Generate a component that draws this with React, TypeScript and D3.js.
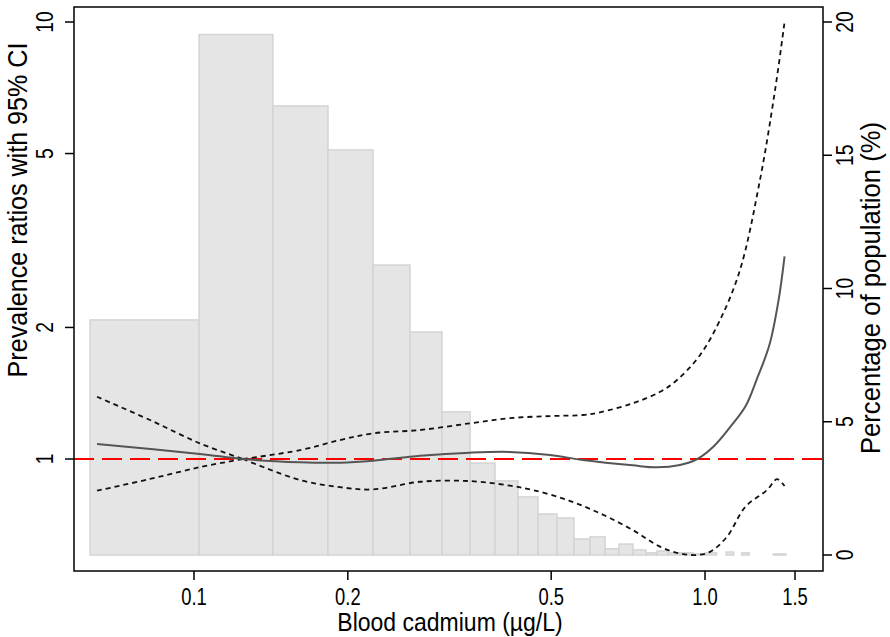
import React, { useEffect, useRef } from 'react';
import * as d3 from 'd3';

// histogram bins (blood cadmium, µg/L) and share of population (%)
const binStart = [0.0626, 0.1023, 0.1427, 0.1829, 0.224, 0.2647, 0.3057, 0.3469, 0.3882, 0.4306, 0.4713, 0.5132, 0.5541, 0.5957, 0.6374, 0.6787, 0.7228, 0.766, 0.8055, 0.846, 0.8935, 0.947, 1.0, 1.1, 1.18, 1.36];
const binEnd = [0.1023, 0.1427, 0.1829, 0.224, 0.2647, 0.3057, 0.3469, 0.3882, 0.4306, 0.4713, 0.5132, 0.5541, 0.5957, 0.6374, 0.6787, 0.7228, 0.766, 0.8055, 0.846, 0.8935, 0.947, 1.0, 1.054, 1.138, 1.22, 1.44];
const binPct = [8.82, 19.53, 16.85, 15.2, 10.88, 8.37, 5.37, 3.45, 2.78, 2.18, 1.54, 1.39, 0.6, 0.68, 0.23, 0.41, 0.19, 0.08, 0.15, 0.08, 0.08, 0.04, 0.08, 0.11, 0.08, 0.04];

// prevalence ratio spline
const fitX = [0.0646, 0.1027, 0.1247, 0.1612, 0.1931, 0.224, 0.2771, 0.3468, 0.4151, 0.4977, 0.5771, 0.7219, 0.8051, 0.8931, 0.9628, 1.038, 1.1215, 1.2001, 1.262, 1.336, 1.393, 1.4311];
const fitPR = [1.082, 1.027, 1.0, 0.983, 0.981, 0.991, 1.017, 1.034, 1.038, 1.021, 0.995, 0.967, 0.957, 0.969, 0.998, 1.067, 1.186, 1.32, 1.52, 1.82, 2.31, 2.91];

const upperX = [0.0646, 0.082, 0.1027, 0.1247, 0.1612, 0.1931, 0.224, 0.2771, 0.3468, 0.4151, 0.4977, 0.5771, 0.623, 0.7219, 0.8166, 0.8814, 0.978, 1.07, 1.171, 1.281, 1.371, 1.4311];
const upperPR = [1.388, 1.228, 1.086, 1.0, 1.048, 1.105, 1.145, 1.165, 1.207, 1.24, 1.254, 1.261, 1.279, 1.341, 1.425, 1.516, 1.73, 2.08, 2.71, 4.35, 6.98, 10.0];

const lowerX = [0.0646, 0.082, 0.1027, 0.1247, 0.1612, 0.1931, 0.224, 0.2771, 0.3468, 0.4151, 0.4607, 0.537, 0.623, 0.7219, 0.8166, 0.8931, 0.9628, 1.0228, 1.104, 1.2001, 1.322, 1.383, 1.4311];
const lowerPR = [0.846, 0.9, 0.958, 1.0, 0.895, 0.862, 0.852, 0.887, 0.89, 0.869, 0.849, 0.806, 0.751, 0.688, 0.63, 0.608, 0.603, 0.613, 0.664, 0.778, 0.849, 0.899, 0.867];

const xTicks = [0.1, 0.2, 0.5, 1.0, 1.5];
const xTickLabels = ['0.1', '0.2', '0.5', '1.0', '1.5'];
const leftTicks = [1, 2, 5, 10];
const rightTicks = [0, 5, 10, 15, 20];

const refValue = 0.1247;

const W = 890;
const H = 637;
const box = { left: 74, right: 823, top: 7, bottom: 571 };
const FONT = 'Liberation Sans, Arial, Helvetica, sans-serif';

const App = () => {
  const ref = useRef<SVGSVGElement>(null);

  useEffect(() => {
    const svg = d3.select(ref.current);
    svg.selectAll('*').remove();

    const x = d3.scaleLog().domain([0.1, 1.5]).range([194, 795]);
    const yL = d3.scaleLog().domain([1, 10]).range([459, 22]);
    const yR = d3.scaleLinear().domain([0, 20]).range([555, 22]);

    const g = svg.append('g');

    // histogram
    g.selectAll('rect.bar')
      .data(binPct)
      .enter()
      .append('rect')
      .attr('class', 'bar')
      .attr('x', (d, i) => x(binStart[i]))
      .attr('width', (d, i) => x(binEnd[i]) - x(binStart[i]))
      .attr('y', d => yR(d))
      .attr('height', d => yR(0) - yR(d))
      .attr('fill', '#e5e5e5')
      .attr('stroke', '#d4d4d4')
      .attr('stroke-width', 1.5);

    // reference line PR = 1
    g.append('line')
      .attr('x1', box.left)
      .attr('x2', box.right)
      .attr('y1', yL(1))
      .attr('y2', yL(1))
      .attr('stroke', '#ff0000')
      .attr('stroke-width', 2)
      .attr('stroke-dasharray', '20,8');

    const line = d3.line<[number, number]>()
      .x(d => x(d[0]))
      .y(d => yL(d[1]))
      .curve(d3.curveCatmullRom.alpha(0.5));

    // split at the reference value so the CI pinches to a point
    const drawSplit = (xs: number[], ys: number[], stroke: string, dash: string | null, width: number) => {
      const pts: [number, number][] = xs.map((v, i) => [v, ys[i]]);
      const left = pts.filter(p => p[0] <= refValue);
      const right = pts.filter(p => p[0] >= refValue);
      [left, right].forEach(part => {
        const p = g.append('path')
          .datum(part)
          .attr('fill', 'none')
          .attr('stroke', stroke)
          .attr('stroke-width', width)
          .attr('d', line);
        if (dash) p.attr('stroke-dasharray', dash);
      });
    };

    drawSplit(upperX, upperPR, '#111', '5,4', 1.8);
    drawSplit(lowerX, lowerPR, '#111', '5,4', 1.8);

    g.append('path')
      .datum(fitX.map((v, i) => [v, fitPR[i]] as [number, number]))
      .attr('fill', 'none')
      .attr('stroke', '#555')
      .attr('stroke-width', 2)
      .attr('d', line);

    // box
    svg.append('rect')
      .attr('x', box.left)
      .attr('y', box.top)
      .attr('width', box.right - box.left)
      .attr('height', box.bottom - box.top)
      .attr('fill', 'none')
      .attr('stroke', '#000')
      .attr('stroke-width', 1.5);

    const tickSize = 9;

    // bottom axis
    const bx = svg.append('g');
    xTicks.forEach((t, i) => {
      bx.append('line')
        .attr('x1', x(t)).attr('x2', x(t))
        .attr('y1', box.bottom).attr('y2', box.bottom + tickSize)
        .attr('stroke', '#000').attr('stroke-width', 1.5);
      bx.append('text')
        .attr('transform', `translate(${x(t)},${605}) scale(0.8,1)`)
        .attr('text-anchor', 'middle')
        .attr('font-family', FONT)
        .attr('font-size', 23)
        .text(xTickLabels[i]);
    });
    svg.append('text')
      .attr('transform', `translate(${450},${631}) scale(0.92,1)`)
      .attr('text-anchor', 'middle')
      .attr('font-family', FONT)
      .attr('font-size', 25)
      .text('Blood cadmium (µg/L)');

    // left axis
    leftTicks.forEach(t => {
      svg.append('line')
        .attr('x1', box.left - tickSize).attr('x2', box.left)
        .attr('y1', yL(t)).attr('y2', yL(t))
        .attr('stroke', '#000').attr('stroke-width', 1.5);
      svg.append('text')
        .attr('transform', `translate(${53},${yL(t)}) rotate(-90) scale(0.8,1)`)
        .attr('text-anchor', 'middle')
        .attr('font-family', FONT)
        .attr('font-size', 24)
        .text(String(t));
    });
    svg.append('text')
      .attr('transform', `translate(${27},${210}) rotate(-90) scale(0.93,1)`)
      .attr('text-anchor', 'middle')
      .attr('font-family', FONT)
      .attr('font-size', 27)
      .text('Prevalence ratios with 95% CI');

    // right axis
    rightTicks.forEach(t => {
      svg.append('line')
        .attr('x1', box.right).attr('x2', box.right + tickSize)
        .attr('y1', yR(t)).attr('y2', yR(t))
        .attr('stroke', '#000').attr('stroke-width', 1.5);
      svg.append('text')
        .attr('transform', `translate(${853},${yR(t)}) rotate(-90) scale(0.8,1)`)
        .attr('text-anchor', 'middle')
        .attr('font-family', FONT)
        .attr('font-size', 24)
        .text(String(t));
    });
    svg.append('text')
      .attr('transform', `translate(${880},${288}) rotate(-90) scale(0.95,1)`)
      .attr('text-anchor', 'middle')
      .attr('font-family', FONT)
      .attr('font-size', 27)
      .text('Percentage of population (%)');
  }, []);

  return (
    <svg
      ref={ref}
      width={W}
      height={H}
      style={{ position: 'absolute', left: 0, top: 0, background: '#fff' }}
    />
  );
};

export default App;
